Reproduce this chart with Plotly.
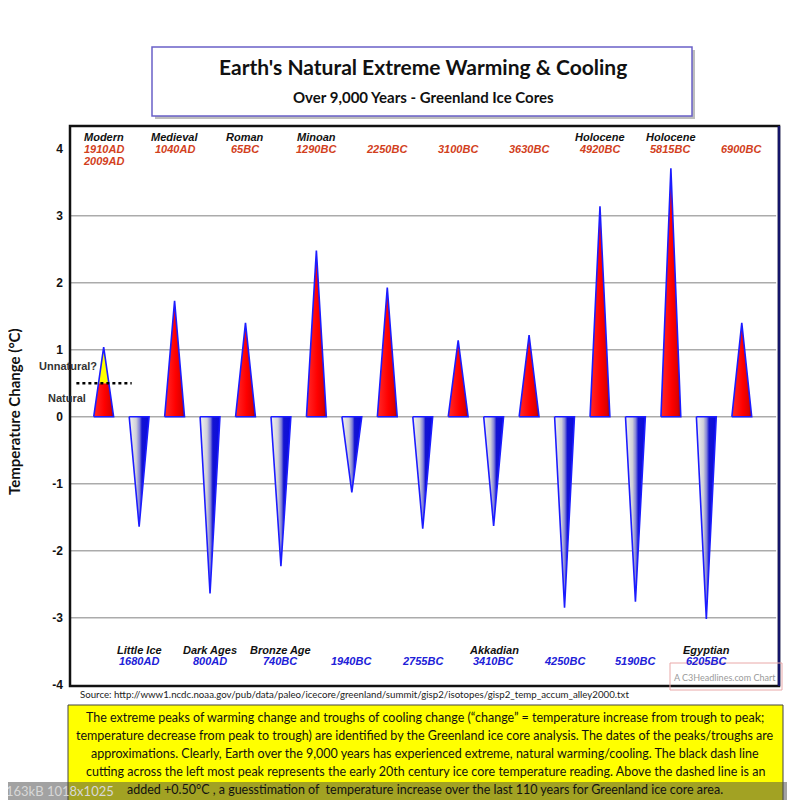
import plotly.graph_objects as go

# ---------------- data ----------------
EVENT_DATES = ["1910AD", "1680AD", "1040AD", "800AD", "65BC", "740BC", "1290BC",
               "1940BC", "2250BC", "2755BC", "3100BC", "3410BC", "3630BC", "4250BC",
               "4920BC", "5190BC", "5815BC", "6205BC", "6900BC"]
EVENT_NAMES = ["Modern", "Little Ice", "Medieval", "Dark Ages", "Roman", "Bronze Age",
               "Minoan", "", "", "", "", "Akkadian", "", "", "Holocene", "",
               "Holocene", "Egyptian", ""]
CHANGES = [1.04, -1.64, 1.73, -2.64, 1.40, -2.23, 2.48, -1.13, 1.93, -1.67,
           1.14, -1.63, 1.22, -2.85, 3.14, -2.76, 3.71, -3.02, 1.40]
MODERN_EXTRA_DATE = "2009AD"
NATURAL_LEVEL = 0.5
Y_TICKS = [-4, -3, -2, -1, 0, 1, 2, 3, 4]
GRID_LEVELS = [-3, -2, -1, 0, 1, 2, 3]

TITLE = "Earth's Natural Extreme Warming &amp; Cooling"
SUBTITLE = "Over 9,000 Years - Greenland Ice Cores"
Y_TITLE = "Temperature Change (°C)"
SOURCE = ("Source: http://www1.ncdc.noaa.gov/pub/data/paleo/icecore/greenland/summit/"
          "gisp2/isotopes/gisp2_temp_accum_alley2000.txt")
NOTE_LINES = [
    "The extreme peaks of warming change and troughs of cooling change (“change” = temperature increase from trough to peak;",
    "temperature decrease from peak to trough) are identified by the Greenland ice core analysis. The dates of the peaks/troughs are",
    "approximations. Clearly, Earth over the 9,000 years has experienced extreme, natural warming/cooling. The black dash line",
    "cutting across the left most peak represents the early 20th century ice core temperature reading. Above the dashed line is an",
    "added +0.50°C , a guesstimation of  temperature increase over the last 110 years for Greenland ice core area.",
]
WATERMARK = "A C3Headlines.com Chart"
THUMB_INFO = "163kB 1018x1025"

# ---------------- styling ----------------
OFF = 8                            # page body margin in the browser
W, H = 795 - OFF, 800 - OFF        # figure size
L, R, T, B = 70, 779, 126, 686     # plot area box in screen pixels
HALF = 0.28                        # half base width of triangles (category units)
RED_SCALE = [[0, "#ff2a2a"], [0.55, "#ff0000"], [0.85, "#dd0000"], [1, "#a00010"]]
BLUE_SCALE = [[0, "#f4f4f4"], [0.35, "#d0d0d8"], [0.52, "#8080d8"], [0.64, "#1414d0"], [1, "#0a0ae0"]]
OUTLINE = "#1c1cff"
TXT_FONT = "Lato"
LBL_FONT = "Liberation Sans"


def px(xp):
    return (xp - L) / (R - L)


def py(yp):
    return (B - yp) / (B - T)


def paper_text(xs, ys, text, size, color, family=TXT_FONT, **kw):
    d = dict(x=px(xs), y=py(ys), xref="paper", yref="paper", text=text, showarrow=False,
             xanchor="center", yanchor="middle", font=dict(family=family, size=size, color=color))
    d.update(kw)
    return d


fig = go.Figure()

for i, v in enumerate(CHANGES):
    xs = [i - HALF, i + HALF, i, i - HALF]
    if i == 0:
        frac = 1 - NATURAL_LEVEL / v
        fig.add_trace(go.Scatter(
            x=[i - HALF, i + HALF, i + HALF * frac, i - HALF * frac, i - HALF],
            y=[0, 0, NATURAL_LEVEL, NATURAL_LEVEL, 0],
            mode="none", fill="toself",
            fillgradient=dict(type="horizontal", colorscale=RED_SCALE, start=i - HALF, stop=i + HALF),
            hoverinfo="skip", showlegend=False))
        fig.add_trace(go.Scatter(
            x=[i - HALF * frac, i + HALF * frac, i, i - HALF * frac],
            y=[NATURAL_LEVEL, NATURAL_LEVEL, v, NATURAL_LEVEL],
            mode="none", fill="toself", fillcolor="#ffff00",
            hoverinfo="skip", showlegend=False))
        fig.add_trace(go.Scatter(
            x=xs, y=[0, 0, v, 0], mode="lines",
            line=dict(color=OUTLINE, width=1.6),
            hoverinfo="skip", showlegend=False))
    else:
        scale = RED_SCALE if v > 0 else BLUE_SCALE
        fig.add_trace(go.Scatter(
            x=xs, y=[0, 0, v, 0], mode="lines", fill="toself",
            fillgradient=dict(type="horizontal", colorscale=scale, start=i - HALF, stop=i + HALF),
            line=dict(color=OUTLINE, width=1.6),
            hoverinfo="skip", showlegend=False))

fig.add_trace(go.Scatter(
    x=[-0.77, 0.79], y=[NATURAL_LEVEL, NATURAL_LEVEL], mode="lines",
    line=dict(color="black", width=2.6, dash="dot"),
    hoverinfo="skip", showlegend=False))

ann = []
for i, (v, name, date) in enumerate(zip(CHANGES, EVENT_NAMES, EVENT_DATES)):
    if v > 0:
        if name:
            ann.append(dict(x=i, y=4.18, xref="x", yref="y", text=f"<b><i>{name}</i></b>",
                            showarrow=False, font=dict(family=LBL_FONT, size=11, color="#111111")))
        ann.append(dict(x=i, y=4.0, xref="x", yref="y", text=f"<b><i>{date}</i></b>",
                        showarrow=False, font=dict(family=LBL_FONT, size=11, color="#d2401c")))
        if i == 0:
            ann.append(dict(x=i, y=3.82, xref="x", yref="y", text=f"<b><i>{MODERN_EXTRA_DATE}</i></b>",
                            showarrow=False, font=dict(family=LBL_FONT, size=11, color="#d2401c")))
    else:
        if name:
            ann.append(dict(x=i, y=-3.48, xref="x", yref="y", text=f"<b><i>{name}</i></b>",
                            showarrow=False, font=dict(family=LBL_FONT, size=11, color="#111111")))
        ann.append(dict(x=i, y=-3.65, xref="x", yref="y", text=f"<b><i>{date}</i></b>",
                        showarrow=False, font=dict(family=LBL_FONT, size=11, color="#2020d8")))

ann.append(paper_text(68, 366, "<b>Unnatural?</b>", 11, "#333333", family=LBL_FONT))
ann.append(paper_text(67, 398, "<b>Natural</b>", 11, "#333333", family=LBL_FONT))

ann.append(paper_text(423, 67, f"<b>{TITLE}</b>", 21, "#111111"))
ann.append(paper_text(423, 97, f"<b>{SUBTITLE}</b>", 15, "#111111"))
ann.append(paper_text(14, 412, f"<b>{Y_TITLE}</b>", 15, "#111111", textangle=-90))
ann.append(paper_text(78, 694, SOURCE, 9.7, "#222222", xanchor="left"))
ann.append(paper_text(725, 677, WATERMARK, 9, "#9a9a9a"))
for k, line in enumerate(NOTE_LINES):
    ann.append(paper_text(425, 717 + 18 * k, line, 12.5, "#111111"))
ann.append(paper_text(4, 791, THUMB_INFO, 13, "#d8d8d8", xanchor="left"))

shapes = []
for g in GRID_LEVELS:
    shapes.append(dict(type="line", xref="paper", yref="y", x0=0, x1=0.996, y0=g, y1=g,
                       line=dict(color="#ababab", width=1.5), layer="below"))
shapes.append(dict(type="rect", xref="paper", yref="paper", x0=0, x1=1, y0=0, y1=1,
                   line=dict(color="#111111", width=2.5)))
shapes.append(dict(type="line", xref="paper", yref="paper", x0=1, x1=1, y0=0, y1=1,
                   line=dict(color="#14146a", width=2.5)))
shapes.append(dict(type="rect", xref="paper", yref="paper", x0=px(155), x1=px(695), y0=py(119), y1=py(50),
                   line=dict(width=0), fillcolor="#bdbdbd", layer="below"))
shapes.append(dict(type="rect", xref="paper", yref="paper", x0=px(152), x1=px(692), y0=py(116), y1=py(47),
                   line=dict(color="#6a60c8", width=1.5), fillcolor="white"))
shapes.append(dict(type="rect", xref="paper", yref="paper", x0=px(670), x1=px(782), y0=py(690), y1=py(663),
                   line=dict(color="#e9a8a8", width=1)))
shapes.append(dict(type="rect", xref="paper", yref="paper", x0=px(68), x1=px(783), y0=py(810), y1=py(705),
                   line=dict(color="#444444", width=1), fillcolor="#ffff00", layer="below"))
shapes.append(dict(type="rect", xref="paper", yref="paper", x0=px(0), x1=px(800), y0=py(805), y1=py(782),
                   line=dict(width=0), fillcolor="rgba(70,70,70,0.5)"))

fig.update_layout(
    width=W, height=H, autosize=False,
    margin=dict(l=L - OFF, r=(W + OFF) - R, t=T - OFF, b=(H + OFF) - B, pad=0),
    paper_bgcolor="white", plot_bgcolor="white",
    xaxis=dict(range=[-0.95, 19.05], showticklabels=False, showgrid=False, zeroline=False,
               showline=False, ticks="", fixedrange=True),
    yaxis=dict(range=[-4.02, 4.34], tickvals=Y_TICKS, ticktext=[str(t) for t in Y_TICKS],
               showgrid=False, zeroline=False, showline=False, ticks="",
               tickfont=dict(family=LBL_FONT, size=12, color="#111111", weight="bold"),
               ticklabelstandoff=6),
    annotations=ann, shapes=shapes, showlegend=False,
)

fig.write_html("out.html")
